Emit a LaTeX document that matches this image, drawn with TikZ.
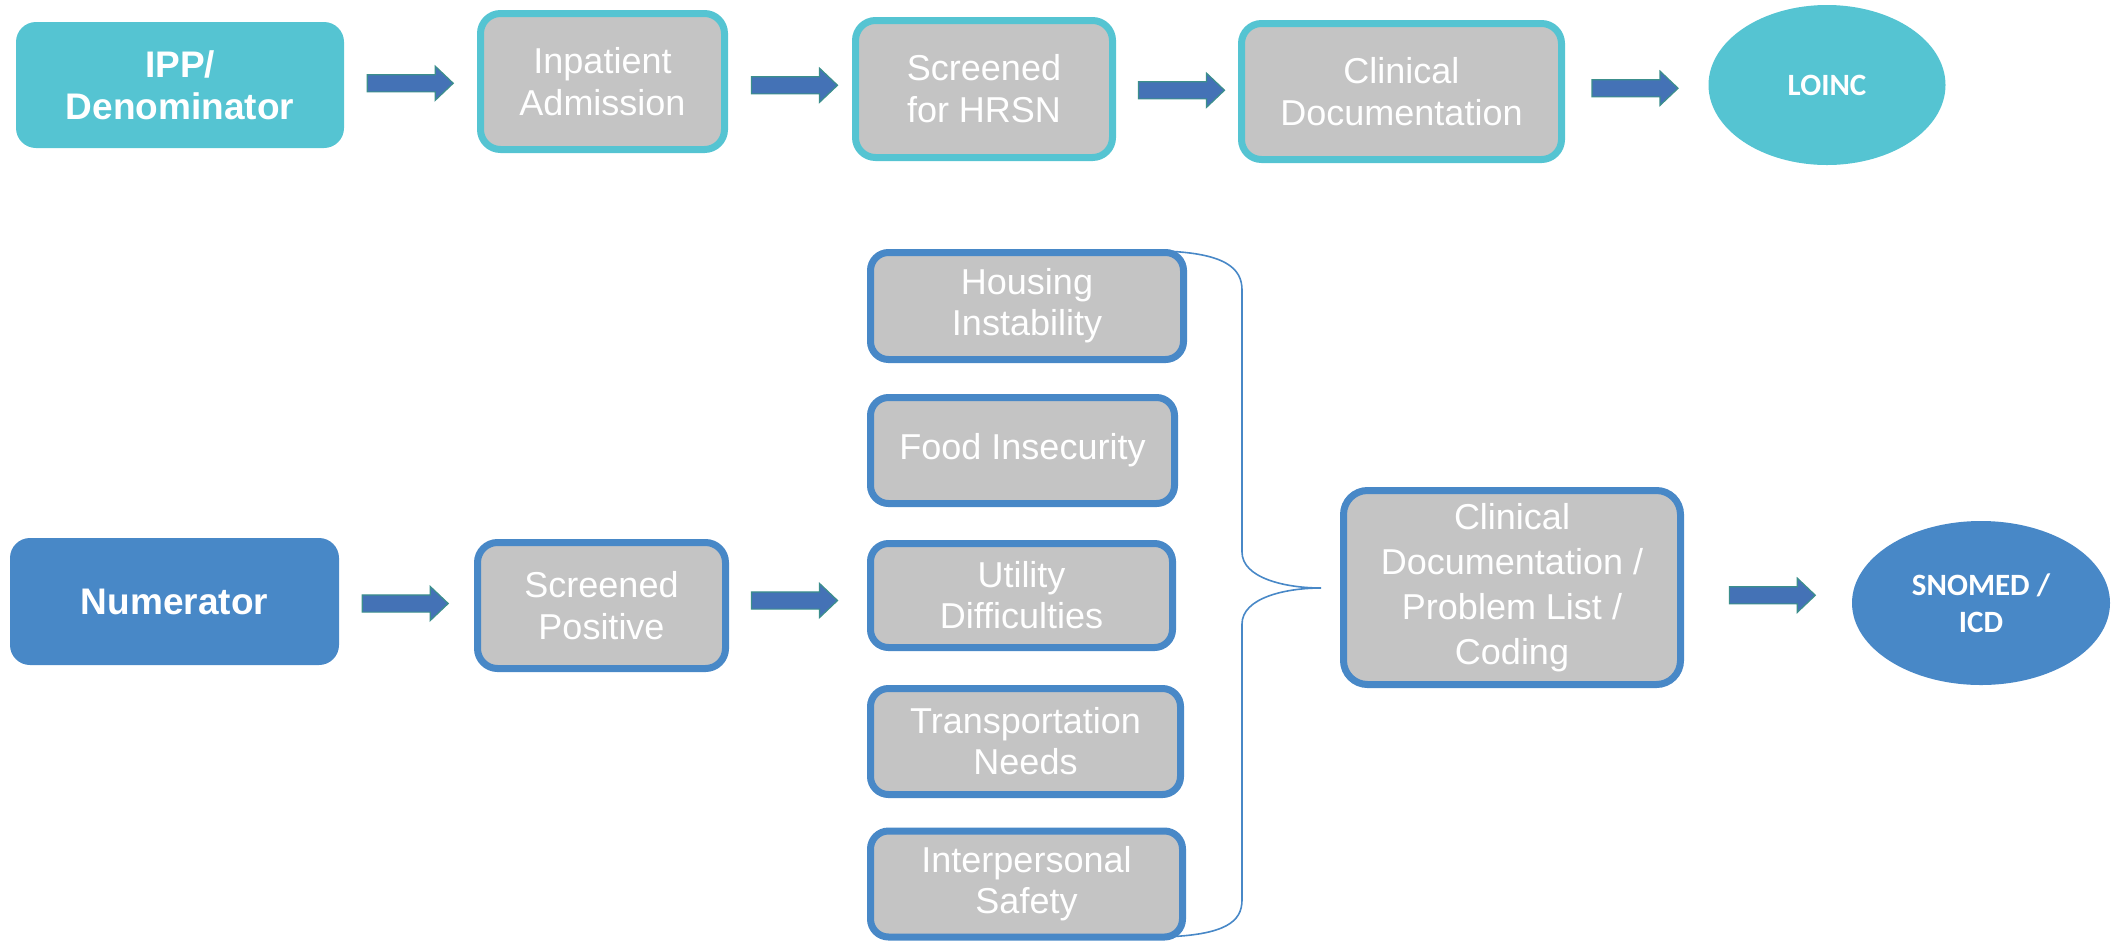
\documentclass[tikz,border=0pt]{standalone}
\usepackage{fontspec}
\setmainfont{Liberation Sans}
\newfontfamily\calibri{Carlito}
\usetikzlibrary{arrows.meta, calc, positioning, shapes.geometric, shapes.arrows}
\definecolor{hrsnteal}{HTML}{55C4D2}
\definecolor{hrsnblue}{HTML}{4888C7}
\definecolor{hrsngrey}{HTML}{C4C4C4}
\definecolor{arrowblue}{HTML}{4472B6}
\definecolor{arrowedge}{HTML}{3C8F8C}

\tikzset{
  headbox/.style={rounded corners=10pt, inner sep=0pt, align=center, text=white,
    font=\fontsize{18.5}{21}\selectfont\bfseries},
  stepbox/.style={rounded corners=10pt, fill=hrsngrey, line width=3.5pt, inner sep=0pt,
    align=center, text=white, font=\fontsize{18}{21}\selectfont},
  needbox/.style={stepbox, draw=hrsnblue, rounded corners=9pt,
    font=\fontsize{18}{20.5}\selectfont},
  codeoval/.style={ellipse, inner sep=0pt, align=center, text=white,
    font=\calibri\bfseries\fontsize{15.5}{18.5}\selectfont},
  blockarrow/.style={single arrow, fill=arrowblue, draw=arrowedge, line width=0.6pt,
    inner xsep=0pt, inner ysep=4pt, minimum height=43pt,
    single arrow head extend=4.25pt, single arrow tip angle=87}
}

\begin{document}
\begin{tikzpicture}[x=0.5pt,y=-0.5pt]
    \useasboundingbox (0,0) rectangle (2126,944);

    \node[headbox, fill=hrsnteal, minimum width=164pt, minimum height=63pt] (ipp) at (180,85) {IPP/\\Denominator};
    \node[stepbox, draw=hrsnteal, minimum width=122pt, minimum height=68pt] (inpatient) at (602.5,81.5) {Inpatient\\Admission};
    \node[stepbox, draw=hrsnteal, minimum width=128.5pt, minimum height=68.5pt] (hrsn) at (984,89) {Screened\\for HRSN};
    \node[stepbox, draw=hrsnteal, minimum width=160pt, minimum height=68pt] (clindoc) at (1401.5,91.5) {Clinical\\Documentation};
    \node[codeoval, fill=hrsnteal, minimum width=118.5pt, minimum height=80pt] (loinc) at (1827,85) {LOINC};

    \node[headbox, fill=hrsnblue, minimum width=164.5pt, minimum height=63.5pt] (numer) at (174.5,601.5) {Numerator};
    \node[stepbox, draw=hrsnblue, minimum width=124pt, minimum height=63pt] (positive) at (601.5,605.5) {Screened\\Positive};

    \node[needbox, minimum width=156.5pt, minimum height=53.5pt] (housing) at (1027,306) {Housing\\Instability};
    \node[needbox, minimum width=152pt, minimum height=53pt] (food) at (1022.5,450.5) {Food Insecurity};
    \node[needbox, minimum width=151pt, minimum height=52pt] (utility) at (1021.5,595.5) {Utility\\Difficulties};
    \node[needbox, minimum width=155pt, minimum height=53pt] (transport) at (1025.5,741.5) {Transportation\\Needs};
    \node[needbox, minimum width=156pt, minimum height=53pt] (safety) at (1026.5,884) {Interpersonal\\Safety};

    \node[stepbox, draw=hrsnblue, rounded corners=12pt, minimum width=168.5pt, minimum height=97pt,
      font=\fontsize{18}{22.5}\selectfont] (problist) at (1512,587.5) {Clinical\\Documentation /\\Problem List /\\Coding};
    \node[codeoval, fill=hrsnblue, minimum width=129pt, minimum height=82pt] (snomed) at (1981,603) {SNOMED /\\ICD};

    \path (ipp.east) -- node[blockarrow, xshift=-2.5pt] {} (inpatient.west);
    \path (inpatient.east) -- node[blockarrow] {} (hrsn.west);
    \path (hrsn.east) -- node[blockarrow] {} (clindoc.west);
    \path (clindoc.east) -- node[blockarrow, xshift=-3pt] {} (loinc.west);
    \path (numer.east) -- node[blockarrow, xshift=-3pt] {} (positive.west);
    \path (positive.east) -- node[blockarrow, xshift=-4pt] {} (utility.west);
    \path (problist.east) -- node[blockarrow] {} (snomed.west);

    \coordinate (bracetop) at (1163,251);
    \coordinate (bracetip) at (1321,588);
    \coordinate (bracebot) at (1163,937);
    \draw[hrsnblue, line width=0.8pt] (bracetop)
      .. controls (1225,253) and (1242,268) .. (1242,290) -- (1242,552)
      .. controls (1242,578) and (1285,588) .. (bracetip)
      .. controls (1285,588) and (1242,598) .. (1242,624) -- (1242,900)
      .. controls (1242,922) and (1225,935) .. (bracebot);
\end{tikzpicture}
\end{document}
